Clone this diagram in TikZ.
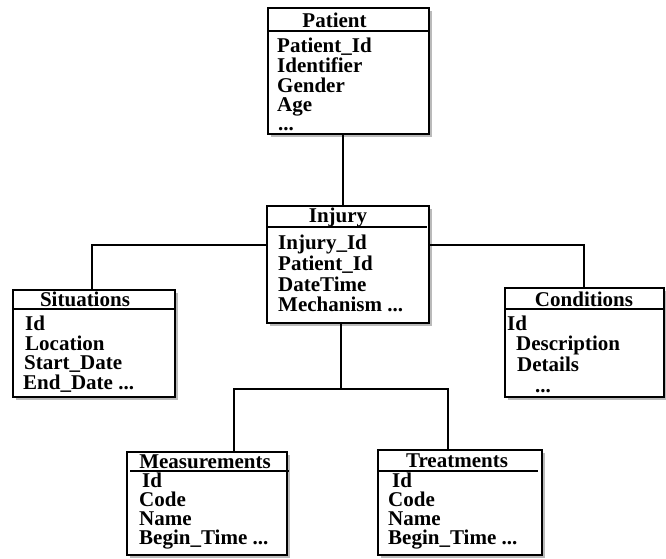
\documentclass[tikz,border=0pt]{standalone}
\usepackage{fontspec}
\setmainfont{Liberation Serif}
\usetikzlibrary{shadows,calc}
\begin{document}
\begin{tikzpicture}[x=1pt,y=-1pt,
  entity/.style={draw=black, line width=1.4pt, fill=white, inner sep=0pt,
    drop shadow={shadow xshift=3pt, shadow yshift=-3pt, fill=black!45, opacity=0.6}},
  hdr/.style={font=\fontsize{21}{21}\selectfont\bfseries, inner sep=0pt, anchor=base},
  attr/.style={font=\fontsize{21}{21}\selectfont\bfseries, inner sep=0pt, anchor=base west},
  hline/.style={line width=1.8pt},
  conn/.style={line width=1.3pt}]
\useasboundingbox (0,0) rectangle (666,558);

% boxes
\node[entity, minimum width=161pt, minimum height=126pt] (Patient) at (348.5,71) {};
\node[entity, minimum width=162pt, minimum height=117pt] (Injury) at (348,264.5) {};
\node[entity, minimum width=162pt, minimum height=107pt] (Situations) at (94,343.5) {};
\node[entity, minimum width=159pt, minimum height=109pt] (Conditions) at (584.5,342.5) {};
\node[entity, minimum width=160pt, minimum height=103pt] (Measurements) at (207,503.5) {};
\node[entity, minimum width=164pt, minimum height=105pt] (Treatments) at (460,502.5) {};

% header lines
\draw[hline] ($(Patient.north west)+(0,23.5)$) -- ($(Patient.north east)+(0,23.5)$);
\draw[hline] ($(Injury.north west)+(0,22)$) -- ($(Injury.north east)+(-3,22)$);
\draw[hline] ($(Situations.north west)+(0,20)$) -- ($(Situations.north east)+(0,20)$);
\draw[hline] ($(Conditions.north west)+(0,22)$) -- ($(Conditions.north east)+(0,22)$);
\draw[hline] ($(Measurements.north west)+(4,20)$) -- ($(Measurements.north east)+(1,20)$);
\draw[hline] ($(Treatments.north west)+(0,22)$) -- ($(Treatments.north east)+(-5,22)$);

% connectors
\coordinate (pj) at (343,0);
\coordinate (sj) at (92,245);
\coordinate (cj) at (584,245);
\coordinate (bj) at (341,389);
\coordinate (mj) at (234,389);
\coordinate (tj) at (448,389);
\draw[conn] (Patient.south -| pj) -- (Injury.north -| pj);
\draw[conn] (Injury.west |- sj) -| (Situations.north -| sj);
\draw[conn] (Injury.east |- cj) -| (Conditions.north -| cj);
\draw[conn] (Injury.south -| bj) -- (bj);
\draw[conn] (Measurements.north -| mj) -- (mj) -- (tj) -- (Treatments.north -| tj);

% Patient
\node[hdr] (ph) at (334.5,27) {Patient};
\node[attr] (p1) at (277,52) {Patient\_Id};
\node[attr] (p2) at (277,72) {Identifier};
\node[attr] (p3) at (277,92) {Gender};
\node[attr] (p4) at (277,111) {Age};
\node[attr] (p5) at (278,130) {...};

% Injury
\node[hdr] (ih) at (338,222) {Injury};
\node[attr] (i1) at (278,249) {Injury\_Id};
\node[attr] (i2) at (278,270) {Patient\_Id};
\node[attr] (i3) at (278,291) {DateTime};
\node[attr] (i4) at (278,311) {Mechanism ...};

% Situations
\node[hdr] (sh) at (85,306) {Situations};
\node[attr] (s1) at (25,330) {Id};
\node[attr] (s2) at (25,350) {Location};
\node[attr] (s3) at (24,369.5) {Start\_Date};
\node[attr] (s4) at (23,389) {End\_Date ...};

% Conditions
\node[hdr] (ch) at (584,306) {Conditions};
\node[attr] (c1) at (507,330) {Id};
\node[attr] (c2) at (516,350) {Description};
\node[attr] (c3) at (517,371) {Details};
\node[attr] (c4) at (535,392) {...};

% Measurements
\node[hdr] (mh) at (205,468) {Measurements};
\node[attr] (m1) at (142,487) {Id};
\node[attr] (m2) at (139,506) {Code};
\node[attr] (m3) at (139,525) {Name};
\node[attr] (m4) at (139,544) {Begin\_Time ...};

% Treatments
\node[hdr] (th) at (457,467) {Treatments};
\node[attr] (t1) at (392,487) {Id};
\node[attr] (t2) at (388,506) {Code};
\node[attr] (t3) at (388,525) {Name};
\node[attr] (t4) at (388,544) {Begin\_Time ...};
\end{tikzpicture}
\end{document}
